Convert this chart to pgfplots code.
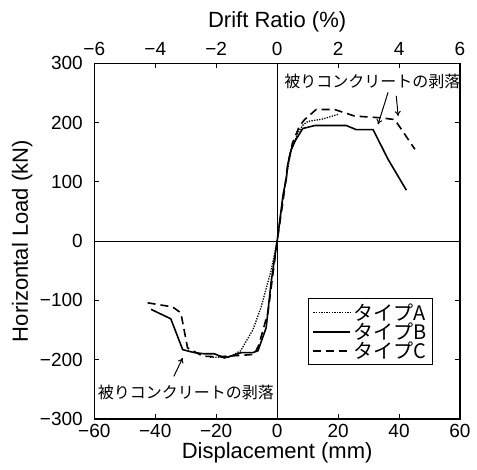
\documentclass[border=0pt]{standalone}
\usepackage{fontspec}
\setmainfont{Liberation Sans}
\newfontfamily\jp{Noto Sans CJK JP}
\usepackage{pgfplots}
\pgfplotsset{compat=1.18}
\usetikzlibrary{arrows.meta}
\begin{document}
\begin{tikzpicture}
\begin{axis}[
  name=main, scale only axis, width=365.7pt, height=355.7pt,
  xmin=-60, xmax=60, ymin=-300, ymax=300,
  xtick={-60,-40,...,60}, ytick={-300,-200,...,300},
  xticklabels={−60,−40,−20,0,20,40,60},
  yticklabels={−300,−200,−100,0,100,200,300},
  xtick pos=both, ytick pos=both, xticklabel pos=lower,
  tick align=inside, major tick length=5pt,
  axis line style={line width=1.1pt}, every tick/.style={line width=1pt, black},
  tick label style={font=\fontsize{19}{21}\selectfont},
  xticklabel style={yshift=-2pt},
  yticklabel style={xshift=-8pt},
  every axis x label/.style={at={(rel axis cs:0.5,0)}, yshift=-34pt, anchor=center},
  every axis y label/.style={at={(rel axis cs:0,0.5)}, xshift=-72pt, anchor=center, rotate=90},
  label style={font=\fontsize{22}{26}\selectfont},
  xlabel={Displacement (mm)}, ylabel={Horizontal Load (kN)},
  clip=false,
  legend style={at={(rel axis cs:0.926,0.340)}, anchor=north east, draw=black, line width=1pt,
    font=\jp\fontsize{20}{22}\selectfont, row sep=-3pt, inner xsep=4pt, inner ysep=3pt},
  legend cell align=left,
  legend image code/.code={\draw[#1] (0pt,0pt) -- (37pt,0pt);},
]
\draw[line width=0.9pt] (axis cs:0,-300) -- (axis cs:0,300);
\draw[line width=0.9pt] (axis cs:-60,0) -- (axis cs:60,0);
% Type A
\addplot[black, line width=1.3pt, dash pattern=on 1.3pt off 1.3pt] coordinates {
 (-22,-196) (-16,-196) (-12,-185) (-8,-150) (-5.3,-112) (-2,-50) (0,0)
 (1.5,60) (3,110) (4.5,150) (6.8,183) (8.5,196) (10.1,202) (15,206) (20,214)
};
\addlegendentry{タイプA}
% Type B
\addplot[black, line width=1.6pt] coordinates {
 (-41.4,-115) (-34.9,-131) (-31,-183) (-27.2,-188) (-24,-190) (-20.6,-190)
 (-17.3,-197) (-14,-192) (-11.8,-188) (-8,-188) (-6.3,-185) (-3.6,-146) (-2,-70) (0,0)
 (1,40) (2,80) (3,104) (3.5,130) (4.6,155) (6,170) (8.4,190) (12.3,195) (22.7,195)
 (26,188) (31.5,188) (36.4,138) (42.4,86)
};
\addlegendentry{タイプB}
% Type C
\addplot[black, line width=1.6pt, dash pattern=on 8pt off 5pt] coordinates {
 (-42.5,-104) (-34.3,-111) (-31.6,-121) (-29.4,-180) (-24.4,-194) (-20,-195)
 (-16.2,-194) (-10,-192) (-7.5,-191) (-6,-175) (-3,-120) (0,0)
 (2,70) (3.5,130) (5,165) (7.3,194) (9,205) (12.8,222) (18.9,222) (25.4,211)
 (34.2,208) (38.6,205) (45.2,155)
};
\addlegendentry{タイプC}
\node[font=\jp\fontsize{16}{18}\selectfont, anchor=west, inner sep=0pt] at (axis cs:2.3,269) {被りコンクリートの剥落};
\node[font=\jp\fontsize{16}{18}\selectfont, anchor=west, inner sep=0pt] at (axis cs:-58.9,-255) {被りコンクリートの剥落};
\draw[line width=1pt, -{To[length=5pt,width=6pt]}] (axis cs:-33.9,-228) -- (axis cs:-31.0,-197);
\draw[line width=1pt, -{To[length=5pt,width=6pt]}] (axis cs:36.4,251) -- (axis cs:33.1,197);
\draw[line width=1pt, -{To[length=5pt,width=6pt]}] (axis cs:39.1,245) -- (axis cs:39.7,211);
\end{axis}
\begin{axis}[
  at={(main.south west)}, anchor=south west,
  scale only axis, width=365.7pt, height=355.7pt,
  xmin=-6, xmax=6, ymin=-300, ymax=300,
  axis x line*=top, axis y line=none,
  xtick={-6,-4,...,6}, xticklabels={−6,−4,−2,0,2,4,6},
  tick align=inside, major tick length=5pt,
  axis line style={line width=1.1pt}, every tick/.style={line width=1pt, black},
  tick label style={font=\fontsize{19}{21}\selectfont},
  xticklabel style={yshift=4pt},
  every axis x label/.style={at={(rel axis cs:0.5,1)}, yshift=41pt, anchor=center},
  label style={font=\fontsize{22}{26}\selectfont},
  xlabel={Drift Ratio (\%)},
]
\end{axis}
\path (main.south west) ++(-94.3pt,-51pt) rectangle ++(477pt,470pt);
\end{tikzpicture}
\end{document}
